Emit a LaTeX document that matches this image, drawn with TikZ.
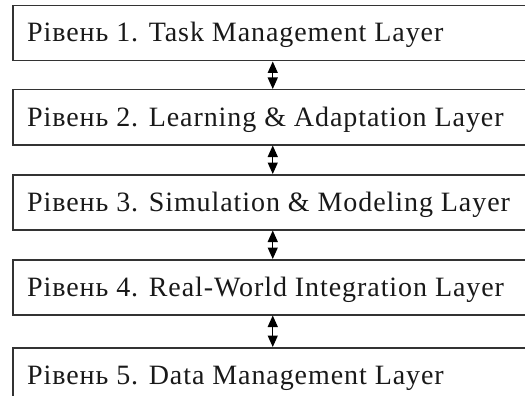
\documentclass[tikz,border=0pt]{standalone}
\usepackage{fontspec}
\setmainfont{Liberation Serif}
\newfontfamily\layerfont[LetterSpace=3.3]{Liberation Serif}
\usetikzlibrary{arrows.meta}
\begin{document}
\begin{tikzpicture}[x=1pt,y=1pt,
  layerbox/.style={draw=black!80, line width=1.5pt, minimum width=520pt, minimum height=55pt, inner sep=0pt, anchor=north west},
  layertext/.style={anchor=base west, inner sep=0pt, font=\layerfont\fontsize{28}{33}\selectfont, text=black!90},
  link/.style={{Triangle[length=11.5pt,width=10pt,fill=black]}-{Triangle[length=11.5pt,width=10pt,fill=black]}, draw=black, line width=1.3pt}]
\useasboundingbox (0,0) rectangle (525,-396);
\clip (0,0) rectangle (525,-396);
\fill[white] (0,0) rectangle (525,-396);
\node[layerbox] (b1) at (12,-5) {};
\node[layerbox] (b2) at (12,-89) {};
\node[layerbox] (b3) at (12,-174) {};
\node[layerbox] (b4) at (12,-259) {};
\node[layerbox] (b5) at (12,-347) {};
\node[layertext] (t1) at (27,-42) {Рівень 1. Task Management Layer};
\node[layertext] (t2) at (27,-126) {Рівень 2. Learning \& Adaptation Layer};
\node[layertext] (t3) at (27,-211) {Рівень 3. Simulation \& Modeling Layer};
\node[layertext] (t4) at (27,-296) {Рівень 4. Real-World Integration Layer};
\node[layertext] (t5) at (27,-384) {Рівень 5. Data Management Layer};
\draw[link] (b1.south) -- (b2.north);
\draw[link] (b2.south) -- (b3.north);
\draw[link] (b3.south) -- (b4.north);
\draw[link] (b4.south) -- (b5.north);
\end{tikzpicture}
\end{document}
